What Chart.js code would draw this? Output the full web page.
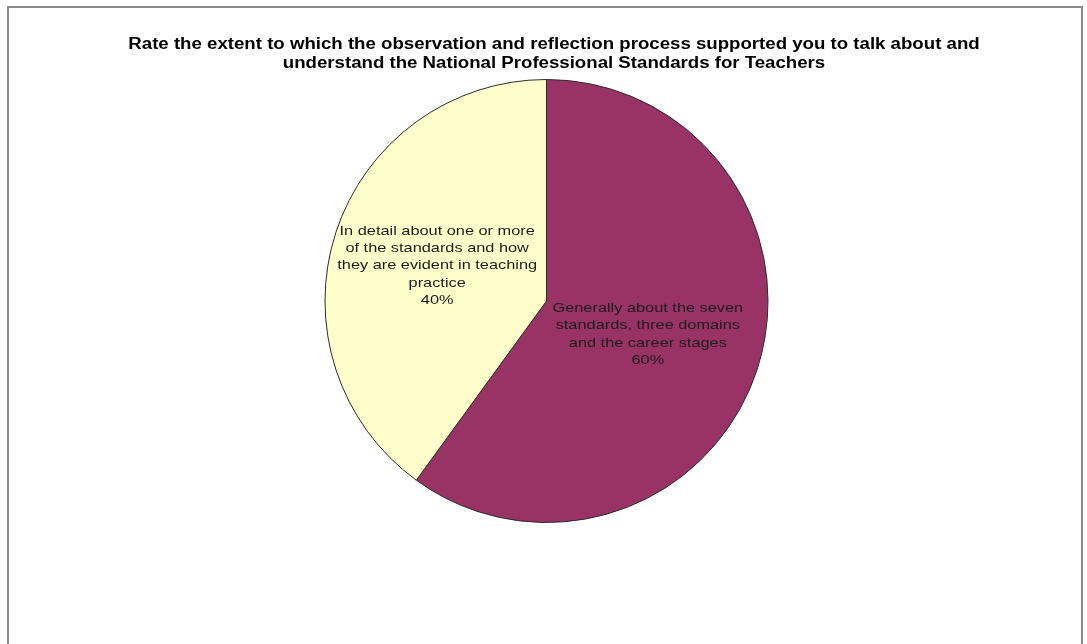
<!DOCTYPE html>
<html>
<head>
<meta charset="utf-8">
<script src="https://cdn.jsdelivr.net/npm/chart.js@4.4.1/dist/chart.umd.min.js"></script>
<style>
  html, body { margin: 0; padding: 0; background: #fff; overflow: hidden; }
  .frame {
    position: absolute; left: 7px; top: 6px; width: 1072px; height: 700px;
    border: 2px solid #8a8a8a; border-bottom: none;
  }
  .wrap { position: absolute; left: 0; top: 0; width: 1087px; height: 644px; }
</style>
</head>
<body>
<div class="frame"></div>
<div class="wrap"><canvas id="pie" width="1087" height="644"></canvas></div>
<script>
// data
const categories = [
  'Generally about the seven standards, three domains and the career stages',
  'In detail about one or more of the standards and how they are evident in teaching practice'
]
const labelLines = [
  ['Generally about the seven', 'standards, three domains', 'and the career stages'],
  ['In detail about one or more', 'of the standards and how', 'they are evident in teaching', 'practice']
]
const shares = [60, 40]
const sliceColors = ['#993366', '#ffffcc']
const titleLines = [
  'Rate the extent to which the observation and reflection process supported you to talk about and',
  'understand the National Professional Standards for Teachers'
]

// the source picture is a bit stretched sideways, so text gets a small x-scale
const FONT = '"Liberation Sans", Arial, sans-serif'

const wideText = (ctx, text, x, y, sx) => {
  ctx.save()
  ctx.translate(x, y)
  ctx.scale(sx, 1)
  ctx.fillText(text, 0, 0)
  ctx.restore()
}

// title + labels inside slices
const textLayer = {
  id: 'textLayer',
  afterDatasetsDraw(chart) {
    const ctx = chart.ctx
    ctx.save()
    ctx.textAlign = 'center'
    ctx.textBaseline = 'middle'

    ctx.font = 'bold 16px ' + FONT
    ctx.fillStyle = '#000'
    titleLines.forEach((t, k) => wideText(ctx, t, 554, 45 + k * 19, 1.165))

    ctx.font = '13.5px ' + FONT
    ctx.fillStyle = '#1c1c1c'
    const lh = 17.3
    chart.getDatasetMeta(0).data.forEach((arc, i) => {
      const p = arc.getCenterPoint()
      const lines = labelLines[i].concat([shares[i] + '%'])
      const y0 = p.y - (lines.length - 1) * lh / 2 - 1
      lines.forEach((t, k) => wideText(ctx, t, p.x - 4, y0 + k * lh, 1.21))
    })
    ctx.restore()
  }
}

new Chart(document.getElementById('pie'), {
  type: 'pie',
  data: {
    labels: categories,
    datasets: [{
      data: shares,
      backgroundColor: sliceColors,
      borderColor: '#2b2b2b',
      borderWidth: 1
    }]
  },
  options: {
    responsive: false,
    animation: false,
    layout: { padding: { top: 79, left: 6, right: 0, bottom: 121 } },
    plugins: {
      legend: { display: false },
      tooltip: { enabled: false },
      title: { display: false }
    }
  },
  plugins: [textLayer]
})
</script>
</body>
</html>
